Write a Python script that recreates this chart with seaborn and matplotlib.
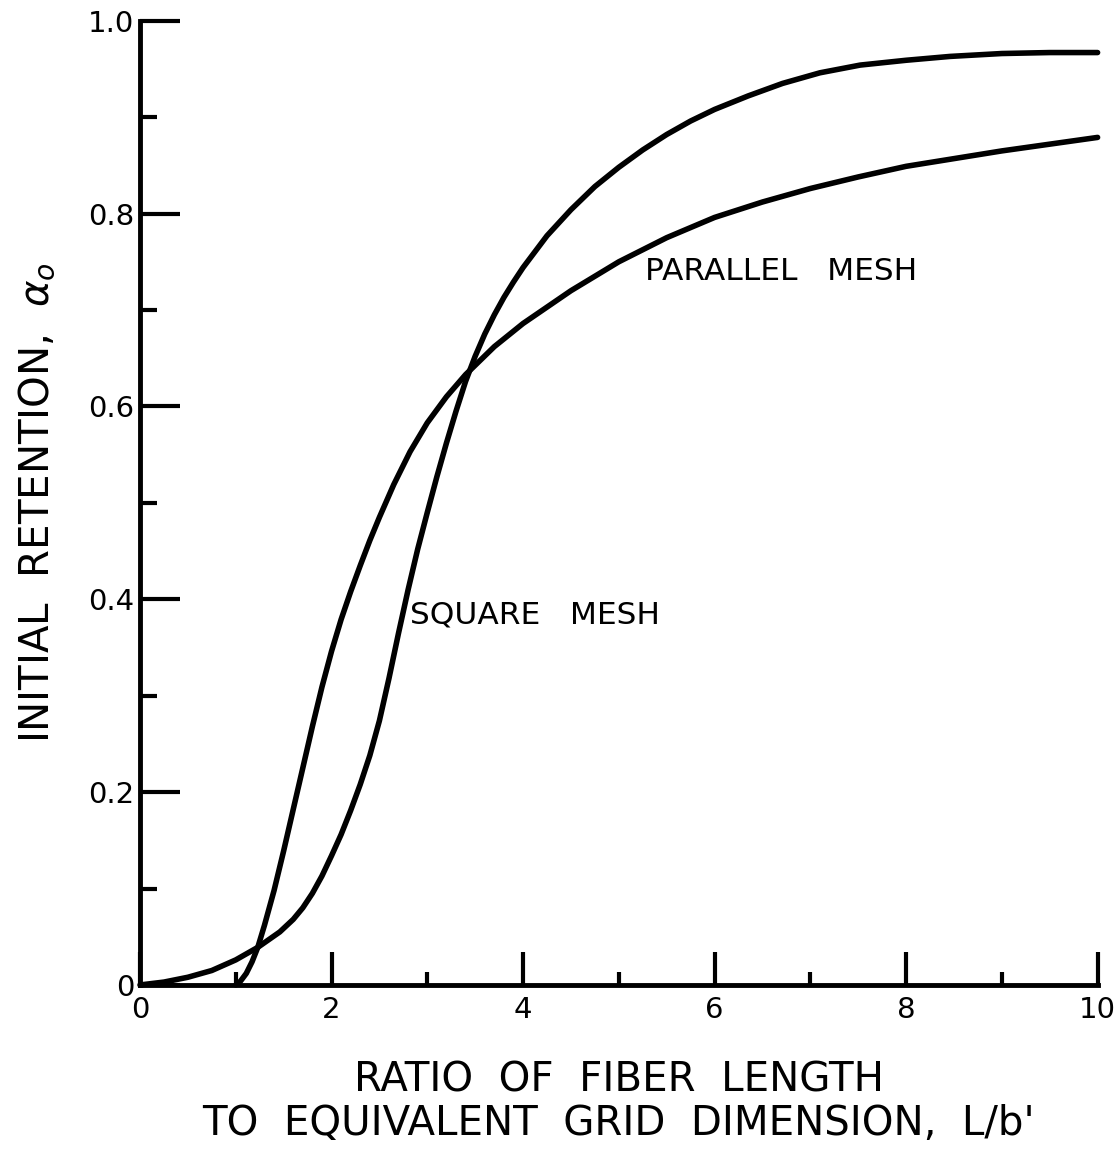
import matplotlib
matplotlib.use("Agg")
import matplotlib.pyplot as plt
import seaborn as sns
import pandas as pd
from matplotlib.ticker import MultipleLocator

# Parallel mesh retention curve (starts at L/b' = 1)
parallel_x = [1.0, 1.05, 1.11, 1.17, 1.23, 1.3, 1.4, 1.5, 1.6, 1.7, 1.8, 1.9, 2.0,
              2.1, 2.2, 2.3, 2.4, 2.5, 2.65, 2.82, 3.0, 3.2, 3.4, 3.7, 4.0, 4.5,
              5.0, 5.5, 6.0, 6.5, 7.0, 7.5, 8.0, 8.5, 9.0, 9.5, 10.0]
parallel_y = [0.0, 0.004, 0.012, 0.024, 0.039, 0.062, 0.098, 0.139, 0.182, 0.225, 0.268, 0.309, 0.346,
              0.379, 0.408, 0.435, 0.461, 0.485, 0.519, 0.553, 0.583, 0.61, 0.633, 0.662, 0.686, 0.72,
              0.75, 0.775, 0.796, 0.812, 0.826, 0.838, 0.849, 0.857, 0.865, 0.872, 0.879]

# Square mesh retention curve (starts at origin)
square_x = [0.0, 0.25, 0.5, 0.75, 1.0, 1.23, 1.46, 1.6, 1.7, 1.8, 1.9, 2.0, 2.1, 2.2,
            2.3, 2.4, 2.5, 2.6, 2.7, 2.8, 2.9, 3.0, 3.1, 3.2, 3.3, 3.4, 3.5, 3.6,
            3.7, 3.8, 3.9, 4.0, 4.25, 4.5, 4.75, 5.0, 5.25, 5.5, 5.75, 6.0, 6.35,
            6.71, 7.1, 7.52, 8.0, 8.46, 9.0, 9.5, 10.0]
square_y = [0.0, 0.003, 0.008, 0.015, 0.026, 0.039, 0.055, 0.068, 0.08, 0.095, 0.113, 0.134, 0.156, 0.181,
            0.208, 0.238, 0.274, 0.318, 0.365, 0.41, 0.452, 0.49, 0.527, 0.562, 0.595, 0.626, 0.652, 0.675,
            0.695, 0.713, 0.729, 0.744, 0.777, 0.804, 0.828, 0.848, 0.866, 0.882, 0.896, 0.908, 0.922,
            0.935, 0.946, 0.954, 0.959, 0.963, 0.966, 0.967, 0.967]

x_ticks = [0, 2, 4, 6, 8, 10]
x_tick_labels = ["0", "2", "4", "6", "8", "10"]
y_ticks = [0, 0.2, 0.4, 0.6, 0.8, 1.0]
y_tick_labels = ["0", "0.2", "0.4", "0.6", "0.8", "1.0"]

sns.set_theme(style="ticks")
plt.rcParams["font.family"] = ["DejaVu Sans"]
plt.rcParams["text.color"] = "black"
plt.rcParams["axes.labelcolor"] = "black"
plt.rcParams["xtick.color"] = "black"
plt.rcParams["ytick.color"] = "black"

fig = plt.figure(figsize=(11.2, 11.52), dpi=100)
ax = fig.add_axes([0.125, 0.145, 0.855, 0.837])

df_par = pd.DataFrame({"x": parallel_x, "y": parallel_y})
df_sq = pd.DataFrame({"x": square_x, "y": square_y})
line_kw = dict(color="black", linewidth=4.0, estimator=None, clip_on=False)
sns.lineplot(data=df_par, x="x", y="y", ax=ax, **line_kw)
sns.lineplot(data=df_sq, x="x", y="y", ax=ax, **line_kw)
for ln in ax.lines:
    ln.set_solid_joinstyle("round")
    ln.set_solid_capstyle("round")

ax.set_xlim(0, 10)
ax.set_ylim(0, 1.0)
sns.despine(ax=ax, top=True, right=True)
for s in ("left", "bottom"):
    ax.spines[s].set_linewidth(3.5)
    ax.spines[s].set_color("black")

ax.set_xticks(x_ticks)
ax.set_xticklabels(x_tick_labels)
ax.set_yticks(y_ticks)
ax.set_yticklabels(y_tick_labels)
ax.xaxis.set_minor_locator(MultipleLocator(1))
ax.yaxis.set_minor_locator(MultipleLocator(0.1))

ax.tick_params(axis="x", which="major", direction="in", length=24, width=3,
               labelsize=21, pad=8)
ax.tick_params(axis="x", which="minor", direction="in", length=9.5, width=3)
ax.tick_params(axis="y", which="major", direction="in", length=29, width=3,
               labelsize=21, pad=4)
ax.tick_params(axis="y", which="minor", direction="in", length=12, width=3)

ax.set_xlabel("RATIO  OF  FIBER  LENGTH\nTO  EQUIVALENT  GRID  DIMENSION,  L/b'",
              fontsize=29, labelpad=26, linespacing=1.12)
ax.set_ylabel(r"INITIAL  RETENTION,  $\alpha_o$", fontsize=29, labelpad=22)

ax.text(5.27, 0.74, "PARALLEL   MESH", fontsize=22.5, va="center", ha="left")
ax.text(2.82, 0.384, "SQUARE   MESH", fontsize=22.5, va="center", ha="left")

fig.savefig("out.png", dpi=100)
